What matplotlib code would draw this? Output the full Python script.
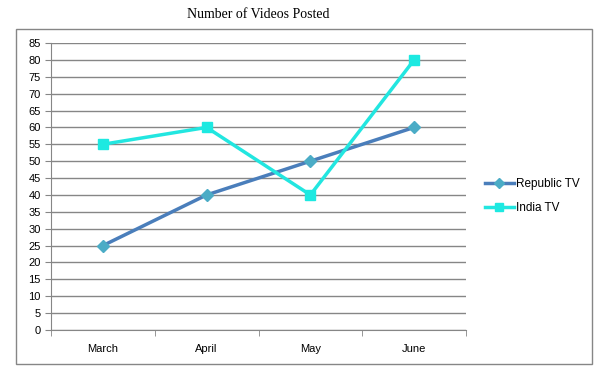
import matplotlib
matplotlib.use("Agg")
import matplotlib.pyplot as plt
from matplotlib.patches import Rectangle
import numpy as np

months = ["March", "April", "May", "June"]
republic_tv = [25, 40, 50, 60]
india_tv = [55, 60, 40, 80]

W, H = 607, 377
fig = plt.figure(figsize=(W / 100, H / 100), dpi=100)
plt.rcParams['font.family'] = ['Liberation Sans', 'DejaVu Sans']

# outer chart border
fig.patches.append(Rectangle((16 / W, 1 - 364 / H), (592 - 16) / W, (364 - 29) / H,
                             transform=fig.transFigure, fill=False, edgecolor="#868686", lw=1))

ax = fig.add_axes([51 / W, 1 - 330 / H, (466 - 51) / W, (330 - 43) / H])
x = np.arange(len(months))

ax.plot(x, republic_tv, color="#4a7ebb", lw=2.5, marker="D", markersize=6,
        markerfacecolor="#4bacc6", markeredgecolor="#4bacc6", label="Republic TV")
ax.plot(x, india_tv, color="#22e6e0", lw=2.5, marker="s", markersize=7,
        markerfacecolor="#1de9e1", markeredgecolor="#1de9e1", label="India TV")

ax.set_xlim(-0.5, 3.5)
ax.set_ylim(0, 85)
ax.set_yticks(range(0, 90, 5))
ax.set_xticks(x)
ax.set_xticklabels(months)
ax.set_xticks(np.arange(-0.5, 4, 1), minor=True)
ax.tick_params(axis="x", which="major", length=0, pad=10, labelsize=8)
ax.tick_params(axis="x", which="minor", length=4, color="#868686")
ax.tick_params(axis="y", length=4, color="#868686", labelsize=8)
ax.yaxis.grid(True, color="#868686", lw=1)
ax.set_axisbelow(True)
for s in ["top", "right"]:
    ax.spines[s].set_visible(False)
for s in ["left", "bottom"]:
    ax.spines[s].set_color("#868686")

fig.text(258 / W, 1 - 14 / H, "Number of Videos Posted", ha="center", va="center",
         family="Liberation Serif", fontsize=10)

leg = ax.legend(loc="center left", bbox_to_anchor=(474 / W, 1 - 196 / H), bbox_transform=fig.transFigure,
                frameon=False, fontsize=8.5, handlelength=2.5, handletextpad=0.2, labelspacing=1.0,
                markerscale=0.8)

fig.savefig("out.png", dpi=100)
